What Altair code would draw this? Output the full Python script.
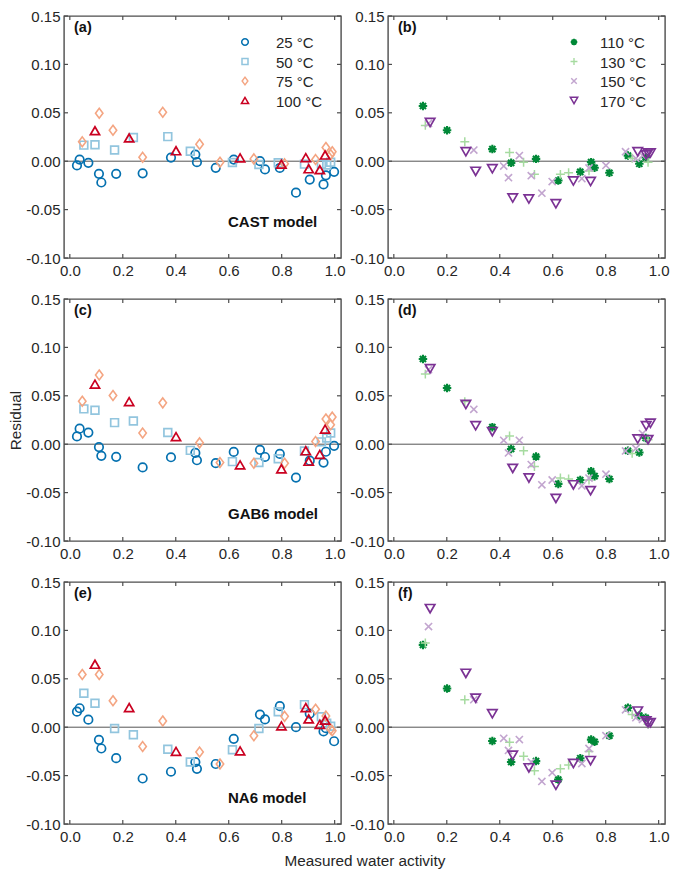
import altair as alt
import pandas as pd

# ---------------- data ----------------
X_TICKS = [0.0, 0.2, 0.4, 0.6, 0.8, 1.0]
Y_TICKS = [-0.10, -0.05, 0.0, 0.05, 0.10, 0.15]
MODELS = ["CAST", "GAB6", "NA6"]
MODEL_LABELS = ["CAST model", "GAB6 model", "NA6 model"]
PANEL_LABELS = ["(a)", "(b)", "(c)", "(d)", "(e)", "(f)"]
TEMPS_LOW = ["25 °C", "50 °C", "75 °C", "100 °C"]
TEMPS_HIGH = ["110 °C", "130 °C", "150 °C", "170 °C"]
X_TITLE = "Measured water activity"
Y_TITLE = "Residual"

AW_25 = [0.027, 0.037, 0.070, 0.110, 0.119, 0.175, 0.275, 0.382, 0.474, 0.480,
         0.551, 0.619, 0.718, 0.737, 0.793, 0.854, 0.906, 0.958, 0.967, 0.998]
R_25_CAST = [-0.0044, 0.0017, -0.0017, -0.013, -0.022, -0.013, -0.0125, 0.0037, 0.0068, -0.001,
             -0.0068, 0.0017, 0.0, -0.0085, -0.007, -0.0325, -0.019, -0.024, -0.0146, -0.011]
R_25_GAB6 = [0.008, 0.016, 0.012, -0.003, -0.012, -0.013, -0.024, -0.0135, -0.009, -0.0166,
             -0.0196, -0.008, -0.0058, -0.0132, -0.010, -0.0345, -0.017, -0.019, -0.0078, -0.0017]
R_25_NA6 = [0.016, 0.0196, 0.0078, -0.013, -0.022, -0.032, -0.053, -0.046, -0.036, -0.043,
            -0.038, -0.012, 0.013, 0.008, 0.0217, 0.0, 0.014, -0.0044, -0.001, -0.0145]

AW_50 = [0.053, 0.095, 0.169, 0.240, 0.370, 0.455, 0.614, 0.714, 0.787, 0.886, 0.950, 0.970, 0.985]
R_50_CAST = [0.0166, 0.017, 0.0115, 0.0244, 0.0254, 0.0102, -0.0014, -0.0034, -0.0017, -0.003,
             -0.003, -0.004, -0.001]
R_50_GAB6 = [0.0365, 0.035, 0.0223, 0.024, 0.012, -0.0064, -0.018, -0.019, -0.015, -0.007,
             0.0024, 0.0064, 0.0115]
R_50_NA6 = [0.035, 0.0247, -0.0013, -0.0078, -0.0227, -0.036, -0.0233, -0.0013, 0.016, 0.0233,
            0.0108, 0.004, 0.001]

AW_75 = [0.047, 0.111, 0.163, 0.275, 0.351, 0.490, 0.567, 0.695, 0.811, 0.928, 0.967, 0.985, 0.991]
R_75_CAST = [0.020, 0.0495, 0.032, 0.004, 0.0505, 0.0176, -0.001, 0.0024, -0.0027, 0.0017,
             0.0142, 0.0068, 0.0098]
R_75_GAB6 = [0.0444, 0.0715, 0.0504, 0.0115, 0.0427, 0.0014, -0.019, -0.0196, -0.0196, 0.0027,
             0.026, 0.020, 0.028]
R_75_NA6 = [0.0545, 0.0545, 0.0274, -0.020, 0.0064, -0.0257, -0.038, -0.0088, 0.0112, 0.0186,
            0.0115, -0.002, -0.0037]

AW_100 = [0.095, 0.224, 0.401, 0.643, 0.799, 0.891, 0.902, 0.944, 0.964]
R_100_CAST = [0.0315, 0.024, 0.0108, 0.0034, -0.003, 0.0037, -0.0078, -0.0088, 0.0064]
R_100_GAB6 = [0.062, 0.044, 0.0078, -0.0213, -0.0254, -0.0068, -0.0176, -0.0105, 0.0156]
R_100_NA6 = [0.065, 0.0203, -0.025, -0.0244, 0.0014, 0.0203, 0.0085, 0.003, 0.0074]

AW_110 = [0.110, 0.201, 0.372, 0.443, 0.537, 0.621, 0.704, 0.745, 0.758, 0.814, 0.884, 0.927, 0.951]
R_110_CAST = [0.057, 0.032, 0.0125, -0.0017, 0.0024, -0.020, -0.011, -0.001, -0.0068, -0.012,
              0.0058, -0.0027, 0.004]
R_110_GAB6 = [0.088, 0.058, 0.0176, -0.005, -0.0128, -0.041, -0.037, -0.028, -0.033, -0.036,
              -0.0068, -0.0085, 0.0064]
R_110_NA6 = [0.085, 0.040, -0.0142, -0.036, -0.035, -0.054, -0.032, -0.0128, -0.015, -0.0088,
             0.020, 0.012, 0.0098]

AW_130 = [0.119, 0.268, 0.437, 0.490, 0.531, 0.629, 0.660, 0.737, 0.900, 0.960]
R_130_CAST = [0.037, 0.020, 0.009, -0.001, -0.0136, -0.0136, -0.012, -0.010, 0.003, -0.001]
R_130_GAB6 = [0.0724, 0.044, 0.0085, -0.0068, -0.023, -0.035, -0.036, -0.037, -0.0095, 0.0047]
R_130_NA6 = [0.087, 0.0284, -0.0156, -0.030, -0.045, -0.043, -0.039, -0.025, 0.013, 0.003]

AW_150 = [0.131, 0.302, 0.415, 0.433, 0.474, 0.519, 0.559, 0.598, 0.710, 0.737, 0.801, 0.875,
          0.914, 0.939]
R_150_CAST = [0.039, 0.0115, -0.005, -0.017, 0.0058, -0.015, -0.033, -0.021, -0.018, -0.007,
              -0.0044, 0.0098, 0.003, 0.0058]
R_150_GAB6 = [0.077, 0.036, 0.004, -0.009, 0.004, -0.021, -0.042, -0.037, -0.043, -0.035,
              -0.031, -0.007, -0.0044, 0.011]
R_150_NA6 = [0.104, 0.0284, -0.0115, -0.024, -0.0128, -0.036, -0.056, -0.047, -0.0375, -0.022,
             -0.0088, 0.018, 0.0098, 0.008]

AW_170 = [0.137, 0.272, 0.309, 0.372, 0.449, 0.510, 0.612, 0.678, 0.743, 0.921, 0.953, 0.960, 0.969]
R_170_CAST = [0.040, 0.0098, -0.0105, -0.0078, -0.038, -0.039, -0.044, -0.0205, -0.021, 0.0098,
              0.0064, 0.0085, 0.0085]
R_170_GAB6 = [0.078, 0.041, 0.019, 0.013, -0.025, -0.035, -0.056, -0.042, -0.048, 0.0054,
              0.019, 0.0047, 0.0217]
R_170_NA6 = [0.1225, 0.0556, 0.030, 0.0139, -0.029, -0.042, -0.060, -0.0375, -0.0345, 0.0166,
             0.0064, 0.0044, 0.0047]

AW = {"25 °C": AW_25, "50 °C": AW_50, "75 °C": AW_75, "100 °C": AW_100,
      "110 °C": AW_110, "130 °C": AW_130, "150 °C": AW_150, "170 °C": AW_170}
RES = {
    "25 °C": {"CAST": R_25_CAST, "GAB6": R_25_GAB6, "NA6": R_25_NA6},
    "50 °C": {"CAST": R_50_CAST, "GAB6": R_50_GAB6, "NA6": R_50_NA6},
    "75 °C": {"CAST": R_75_CAST, "GAB6": R_75_GAB6, "NA6": R_75_NA6},
    "100 °C": {"CAST": R_100_CAST, "GAB6": R_100_GAB6, "NA6": R_100_NA6},
    "110 °C": {"CAST": R_110_CAST, "GAB6": R_110_GAB6, "NA6": R_110_NA6},
    "130 °C": {"CAST": R_130_CAST, "GAB6": R_130_GAB6, "NA6": R_130_NA6},
    "150 °C": {"CAST": R_150_CAST, "GAB6": R_150_GAB6, "NA6": R_150_NA6},
    "170 °C": {"CAST": R_170_CAST, "GAB6": R_170_GAB6, "NA6": R_170_NA6},
}

# ---------------- styling ----------------
FONT = "Liberation Sans"
FRAME = "#4d4d4d"
TXT = "#262626"
W, H = 277, 242

STYLE = {
    "25 °C": dict(color="#0571b0", shape="circle", size=72, sw=1.7),
    "50 °C": dict(color="#92c5de", shape="square", size=60, sw=1.7),
    "75 °C": dict(color="#f4a582", shape="M0,-1.2L0.9,0L0,1.2L-0.9,0Z", size=68, sw=1.6),
    "100 °C": dict(color="#ca0020", shape="triangle-up", size=85, sw=1.7),
    "110 °C": dict(color="#008837", shape="M-1,0L1,0M0,-1L0,1M-0.72,-0.72L0.72,0.72M-0.72,0.72L0.72,-0.72",
                   size=72, sw=2.1),
    "130 °C": dict(color="#a6dba0", shape="M-1,0L1,0M0,-1L0,1", size=80, sw=1.5),
    "150 °C": dict(color="#c2a5cf", shape="M-0.8,-0.8L0.8,0.8M-0.8,0.8L0.8,-0.8", size=80, sw=1.6),
    "170 °C": dict(color="#7b3294", shape="triangle-down", size=90, sw=1.7),
}

xscale = alt.Scale(domain=[-0.022, 1.024], nice=False, zero=False)
yscale = alt.Scale(domain=[-0.10, 0.15], nice=False, zero=False)

x_axis = alt.Axis(values=X_TICKS, format=".1f", title=None, grid=False, domain=False,
                  ticks=False, labelPadding=5)


def y_axis(title_mode):
    kw = dict(values=Y_TICKS, labelExpr="replace(format(datum.value, '.2f'), '\u2212', '-')",
              grid=False, domain=False, ticks=False, labelPadding=4)
    if title_mode == "none":
        return alt.Axis(title=None, **kw)
    return alt.Axis(title=Y_TITLE, titlePadding=2, titleFont=FONT, titleFontSize=15.3,
                    titleFontWeight="normal", titleColor=TXT,
                    titleOpacity=1 if title_mode == "show" else 0, **kw)


def panel(temps, model, plabel, mlabel, mlabel_y, legend, title_mode):
    X = alt.X("x:Q", scale=xscale, axis=x_axis)
    Y = alt.Y("y:Q", scale=yscale, axis=y_axis(title_mode))
    layers = []
    layers.append(alt.Chart(pd.DataFrame({"y": [0.0]})).mark_rule(color="#555555", strokeWidth=1)
                  .encode(y=Y, x=alt.value(0), x2=alt.value(W)))
    xt = pd.DataFrame({"x": X_TICKS})
    yt = pd.DataFrame({"y": Y_TICKS})
    layers.append(alt.Chart(xt).mark_rule(color=FRAME, strokeWidth=1.2)
                  .encode(x=X, y=alt.value(H), y2=alt.value(H - 4)))
    layers.append(alt.Chart(xt).mark_rule(color=FRAME, strokeWidth=1.2)
                  .encode(x=X, y=alt.value(0), y2=alt.value(4)))
    layers.append(alt.Chart(yt).mark_rule(color=FRAME, strokeWidth=1.2)
                  .encode(y=Y, x=alt.value(0), x2=alt.value(4)))
    layers.append(alt.Chart(yt).mark_rule(color=FRAME, strokeWidth=1.2)
                  .encode(y=Y, x=alt.value(W), x2=alt.value(W - 4)))
    for t in temps:
        st = STYLE[t]
        df = pd.DataFrame({"x": AW[t], "y": RES[t][model]})
        layers.append(alt.Chart(df).mark_point(shape=st["shape"], size=st["size"], filled=False,
                                               color=st["color"], strokeWidth=st["sw"], opacity=1)
                      .encode(x=X, y=Y))
    # panel letter
    layers.append(alt.Chart(pd.DataFrame({"t": [plabel]})).mark_text(
        font=FONT, fontSize=14.5, fontWeight="bold", color="#111111", align="left", baseline="middle")
        .encode(text="t:N", x=alt.value(10), y=alt.value(12)))
    if mlabel:
        layers.append(alt.Chart(pd.DataFrame({"t": [mlabel]})).mark_text(
            font=FONT, fontSize=15, fontWeight="bold", color="#111111", align="left", baseline="middle")
            .encode(text="t:N", x=alt.value(164), y=alt.value(mlabel_y)))
    if legend:
        mx, tx = legend
        for i, t in enumerate(temps):
            st = STYLE[t]
            yy = 26 + i * 19.5
            one = pd.DataFrame({"t": [t]})
            layers.append(alt.Chart(one).mark_point(shape=st["shape"], size=st["size"] * 0.6,
                                                    filled=False, color=st["color"],
                                                    strokeWidth=st["sw"] * 0.9, opacity=1)
                          .encode(x=alt.value(mx), y=alt.value(yy)))
            layers.append(alt.Chart(one).mark_text(font=FONT, fontSize=15, color=TXT,
                                                   align="left", baseline="middle")
                          .encode(text="t:N", x=alt.value(tx), y=alt.value(yy + 1)))
    return alt.layer(*layers).properties(width=W, height=H)


pa = panel(TEMPS_LOW, "CAST", PANEL_LABELS[0], MODEL_LABELS[0], 206, (181, 212), "hidden")
pb = panel(TEMPS_HIGH, "CAST", PANEL_LABELS[1], None, 0, (186, 212), "none")
pc = panel(TEMPS_LOW, "GAB6", PANEL_LABELS[2], MODEL_LABELS[1], 215, None, "show")
pd_ = panel(TEMPS_HIGH, "GAB6", PANEL_LABELS[3], None, 0, None, "none")
pe = panel(TEMPS_LOW, "NA6", PANEL_LABELS[4], MODEL_LABELS[2], 216, None, "hidden")
pf = panel(TEMPS_HIGH, "NA6", PANEL_LABELS[5], None, 0, None, "none")

chart = alt.vconcat(
    alt.hconcat(pa, pb, spacing=3),
    alt.hconcat(pc, pd_, spacing=3),
    alt.hconcat(pe, pf, spacing=3),
    spacing=12,
).properties(
    padding=0,
    title=alt.TitleParams(X_TITLE, orient="bottom", anchor="middle", font=FONT, fontSize=15.3,
                          fontWeight="normal", color=TXT, offset=9, dx=26),
).configure_view(
    stroke=FRAME, strokeWidth=1.4
).configure_axis(
    labelFont=FONT, labelFontSize=15, labelColor=TXT
)

chart.save("out.html", embed_options={"renderer": "svg", "actions": False})
